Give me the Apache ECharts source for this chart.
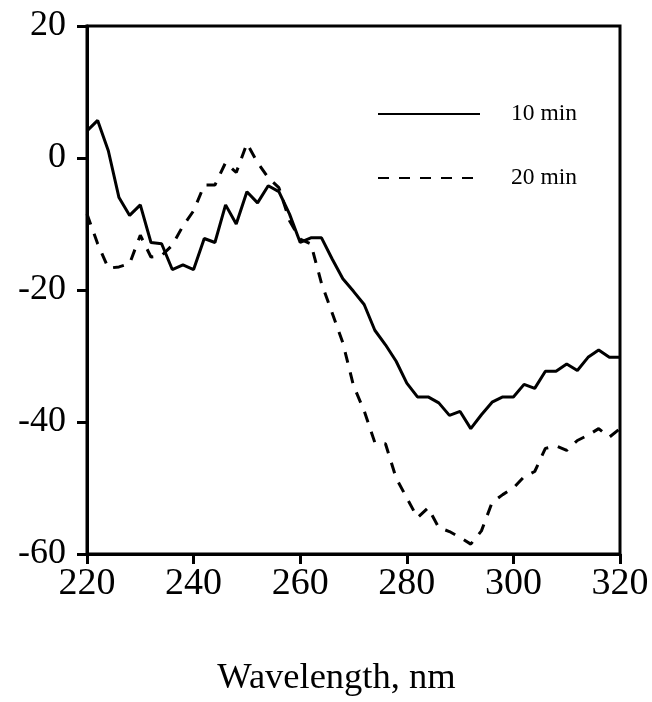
<!DOCTYPE html>
<html>
<head>
<meta charset="utf-8">
<script src="https://cdn.jsdelivr.net/npm/echarts@6/dist/echarts.min.js"></script>
<style>html,body{margin:0;padding:0;background:#fff}#c{width:652px;height:702px}</style>
</head>
<body>
<div id="c"></div>
<script>
var wavelengths = [220,222,224,226,228,230,232,234,236,238,240,242,244,246,248,250,252,254,256,258,260,262,264,266,268,270,272,274,276,278,280,282,284,286,288,290,292,294,296,298,300,302,304,306,308,310,312,314,316,318,320];
var min10 = [4.1,5.7,1.1,-6,-8.7,-7.1,-12.8,-13,-16.9,-16.2,-16.9,-12.2,-12.8,-7.1,-10,-5.1,-6.8,-4.2,-5.1,-8.5,-12.8,-12.1,-12.1,-15.3,-18.3,-20.2,-22.2,-26.1,-28.3,-30.8,-34.1,-36.2,-36.2,-37.1,-39.0,-38.4,-41.0,-38.9,-37,-36.2,-36.2,-34.3,-34.9,-32.3,-32.3,-31.2,-32.2,-30.2,-29.1,-30.2,-30.2];
var min20 = [-8.5,-13,-16.7,-16.5,-16,-11.7,-15,-14.8,-13.2,-10.3,-8,-4.1,-4.1,-0.7,-2.2,2.2,-0.7,-3,-4.5,-9.5,-12.3,-13,-19,-23.5,-28,-34.5,-38.3,-43.1,-43.3,-48.5,-51.5,-54.5,-53,-56,-56.6,-57.5,-58.5,-56.5,-52.2,-51,-50,-48.3,-47.5,-44,-43.6,-44.3,-42.8,-42,-41,-42.3,-41];
var seriesNames = ['10 min', '20 min'];
var yTicks = {min: -60, max: 20, interval: 20};
var xTicks = {min: 220, max: 320, interval: 20};
var xTitle = 'Wavelength, nm';

function pairs(xs, ys) { return xs.map(function (x, i) { return [x, ys[i]]; }); }

var font = 'Liberation Serif';
var chart = echarts.init(document.getElementById('c'), null, {renderer: 'canvas'});
chart.setOption({
  animation: false,
  backgroundColor: '#fff',
  grid: {left: 87, right: 32, top: 26, bottom: 145, show: true, borderColor: '#000', borderWidth: 3, backgroundColor: 'transparent'},
  legend: {
    orient: 'vertical', left: 372, top: 97, itemWidth: 102, itemHeight: 16, itemGap: 40,
    itemStyle: {color: 'transparent', borderWidth: 0, opacity: 0},
    textStyle: {fontFamily: font, fontSize: 23.5, color: '#000', padding: [0, 0, 0, 26]},
    data: seriesNames
  },
  xAxis: {
    type: 'value', min: xTicks.min, max: xTicks.max, interval: xTicks.interval,
    name: xTitle, nameLocation: 'middle', nameGap: 106,
    nameTextStyle: {fontFamily: font, fontSize: 36.5, color: '#000', padding: [0, 34, 0, 0]},
    axisLine: {show: true, onZero: false, lineStyle: {color: '#000', width: 3}},
    axisTick: {show: true, inside: false, length: 10, lineStyle: {color: '#000', width: 3}},
    axisLabel: {fontFamily: font, fontSize: 38, color: '#000', margin: 11},
    splitLine: {show: false}
  },
  yAxis: {
    type: 'value', min: yTicks.min, max: yTicks.max, interval: yTicks.interval,
    axisLine: {show: true, onZero: false, lineStyle: {color: '#000', width: 3}},
    axisTick: {show: true, inside: false, length: 10, lineStyle: {color: '#000', width: 3}},
    axisLabel: {fontFamily: font, fontSize: 36, color: '#000', margin: 21},
    splitLine: {show: false}
  },
  series: [
    {name: seriesNames[0], type: 'line', data: pairs(wavelengths, min10), symbol: 'none', smooth: false,
     lineStyle: {color: '#000', width: 3, type: 'solid'}, itemStyle: {color: '#000'}},
    {name: seriesNames[1], type: 'line', data: pairs(wavelengths, min20), symbol: 'none', smooth: false,
     lineStyle: {color: '#000', width: 3, type: [11, 10]}, itemStyle: {color: '#000'}}
  ]
});
</script>
</body>
</html>
